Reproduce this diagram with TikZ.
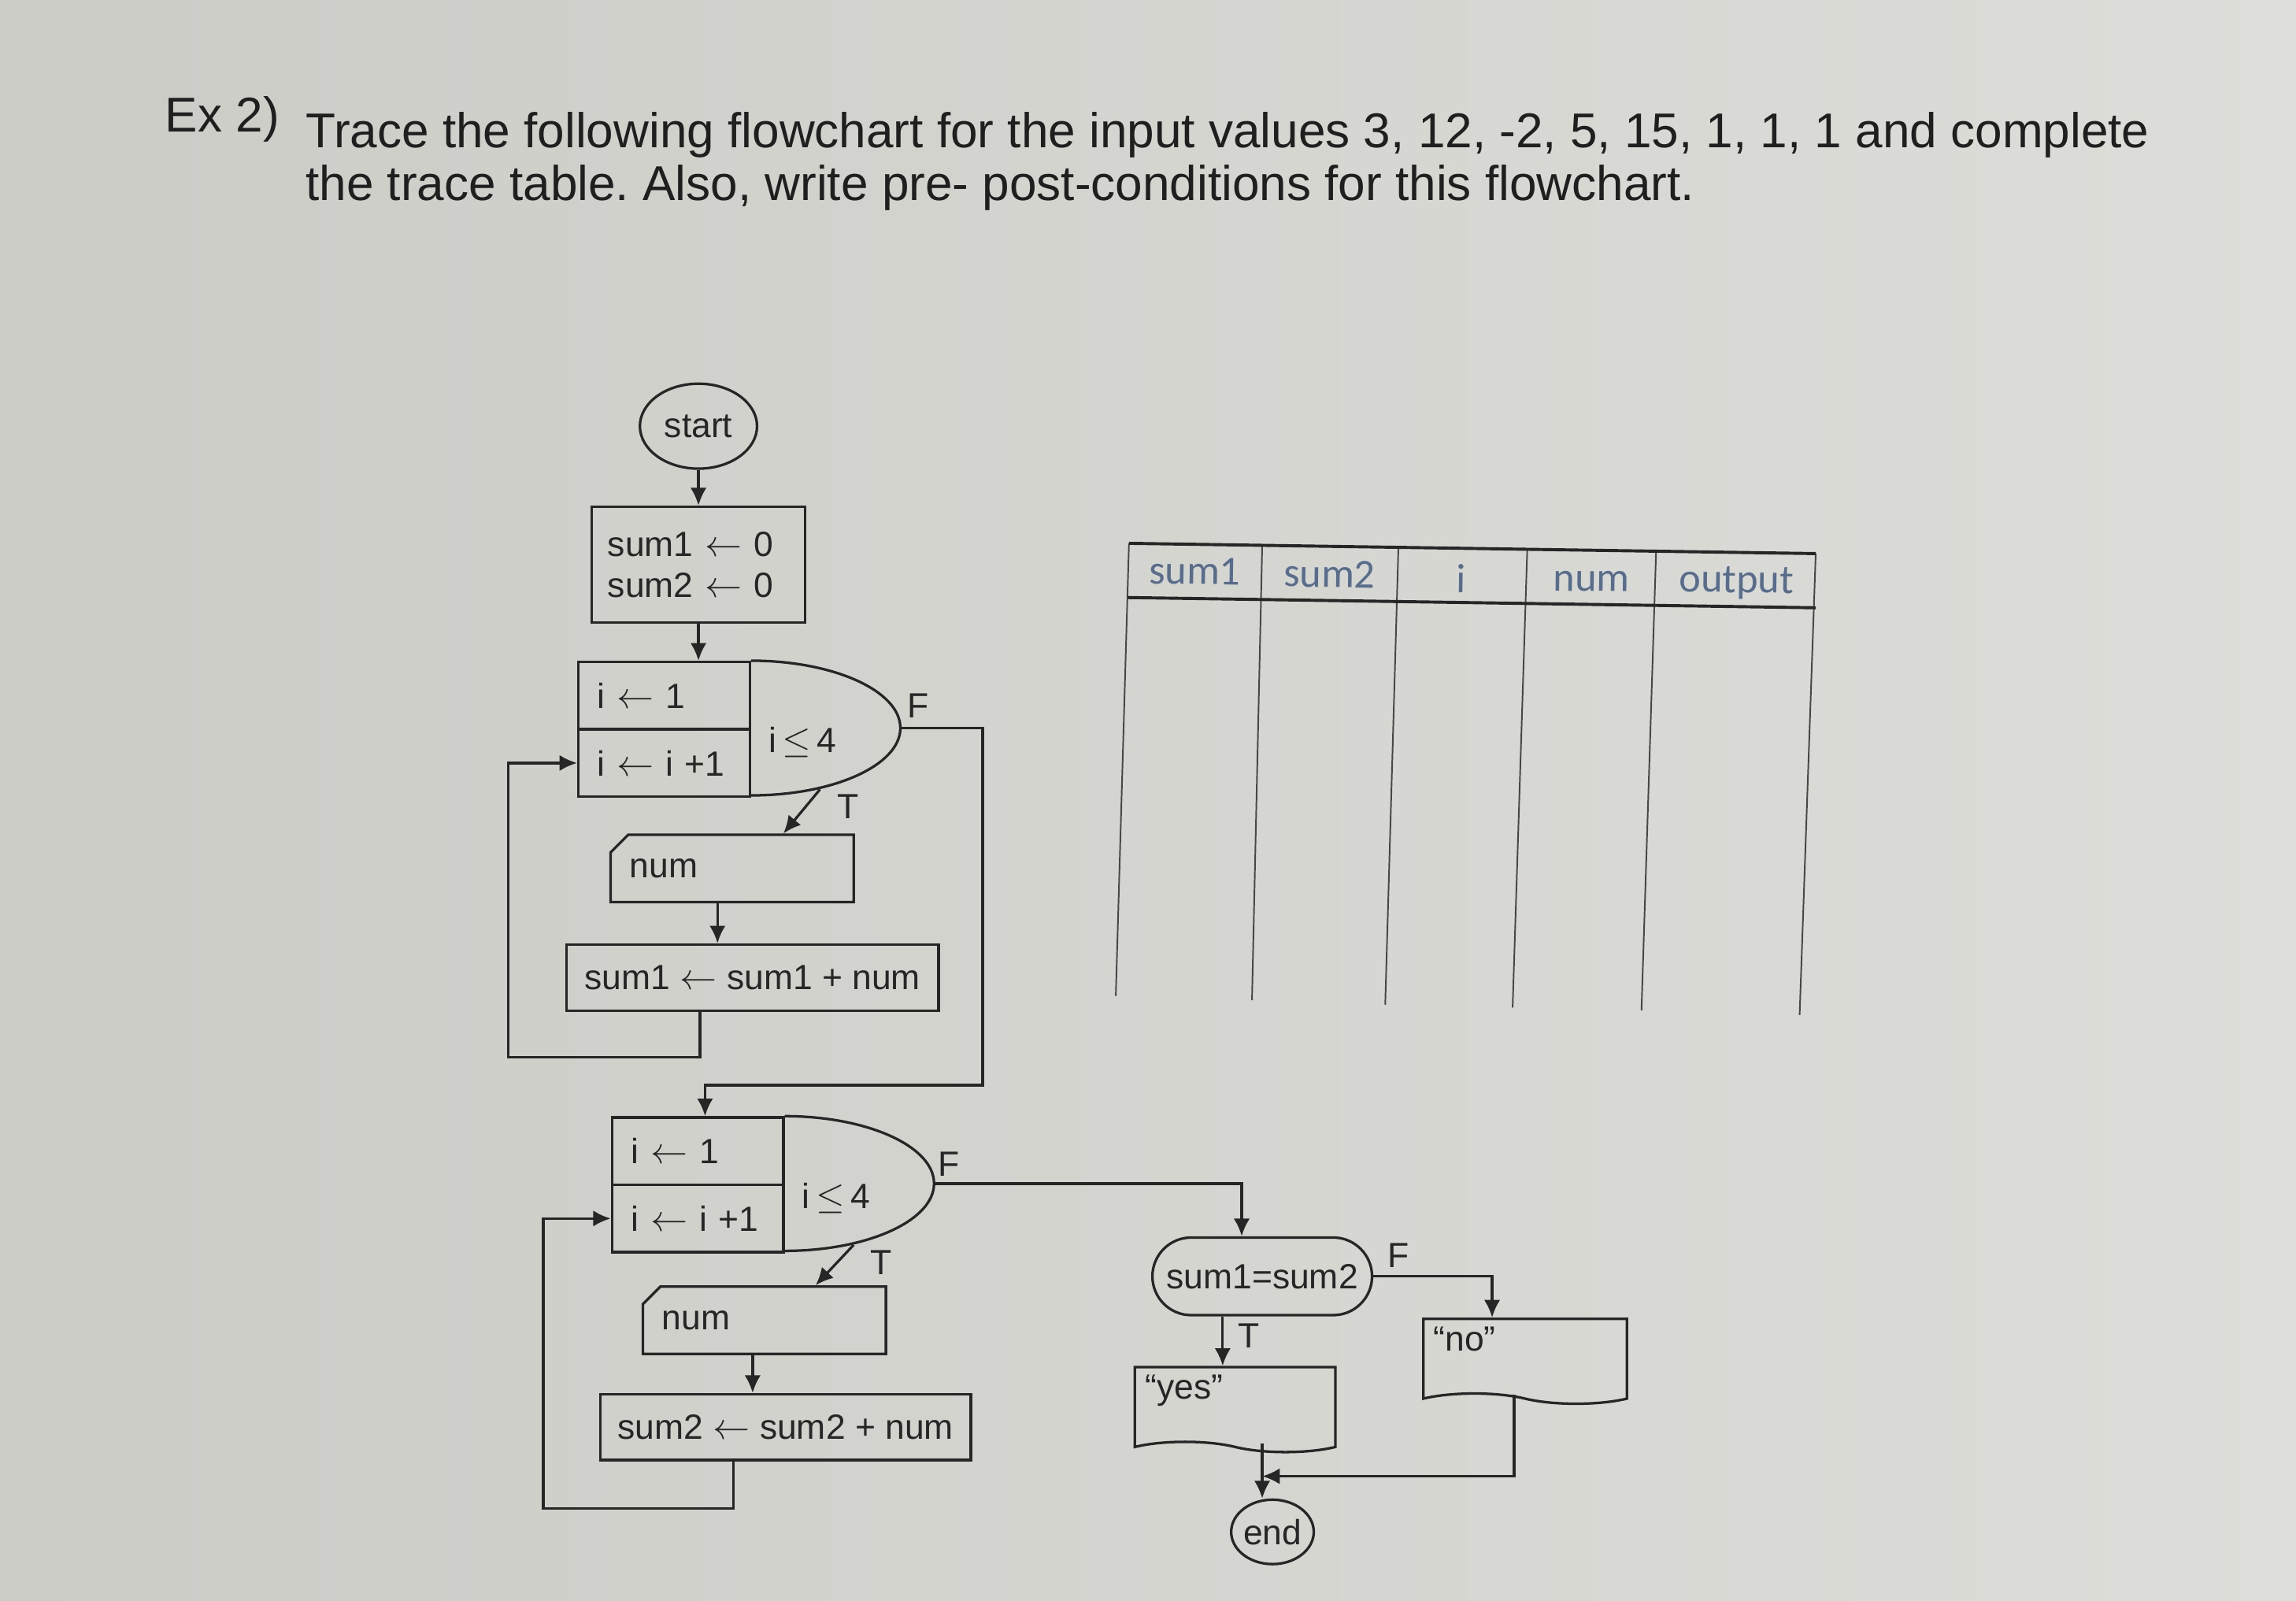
\documentclass[tikz,border=0pt]{standalone}
\usepackage{fontspec}
\setmainfont{Liberation Sans}
\newfontfamily\tabfont{Carlito}
\usetikzlibrary{arrows.meta,shapes.geometric,shapes.misc,shapes.symbols}
\frenchspacing

\definecolor{paperdark}{RGB}{204,204,199}
\definecolor{paperlight}{RGB}{221,221,217}
\definecolor{ink}{RGB}{38,38,38}
\definecolor{headblue}{RGB}{88,108,140}

\begin{document}
\begin{tikzpicture}[x=0.2mm, y=-0.2mm, color=ink, line width=1pt,
    >={Latex[length=2.4mm,width=2.2mm]},
    every node/.style={font=\fontsize{13.6}{16}\selectfont},
    startstop/.style={draw, ellipse, inner sep=0pt},
    procbox/.style={draw, rectangle, inner sep=0pt},
    loopbox/.style={draw, rectangle, minimum width=23.4mm, minimum height=9.2mm,
        text width=18.2mm, align=left, inner xsep=2.6mm, inner ysep=0pt},
    inputbox/.style={draw, chamfered rectangle, chamfered rectangle corners=north west,
        chamfered rectangle xsep=1mm, chamfered rectangle ysep=1.4mm,
        minimum width=31.2mm, minimum height=9.2mm, text width=28mm, align=left,
        inner xsep=1.6mm, inner ysep=0pt},
    testbox/.style={draw, rounded rectangle, minimum width=30mm, minimum height=10.6mm, inner sep=0pt},
    docbox/.style={draw, tape, tape bend top=none, tape bend bottom=out and in,
        tape bend height=1.4mm, minimum height=10.6mm, align=left,
        text height=3.4mm, text depth=4.8mm, inner xsep=1.4mm, inner ysep=1mm},
    lbl/.style={inner sep=0pt},
    titletext/.style={anchor=base west, inner sep=0pt,
        font=\fontsize{19}{22}\selectfont, text=black!88},
    headtext/.style={inner sep=0pt, rotate=-0.8, text=headblue,
        font=\tabfont\fontsize{16}{19}\selectfont}]

    % Paper
    \shade[left color=paperdark, right color=paperlight] (0,0) rectangle (1568,1093);
    \useasboundingbox (0,0) rectangle (1568,1093);

    % Task
    \node[titletext] (exno) at (112,90) {Ex 2)};
    \node[titletext] (task1) at (208,101) {Trace the following flowchart for the input values 3, 12, -2, 5, 15, 1, 1, 1 and complete};
    \node[titletext] (task2) at (208,137) {the trace table. Also, write pre- post-conditions for this flowchart.};

    % First loop
    \node[startstop, minimum width=16mm, minimum height=11.6mm] (start) at (477,291) {start};
    \node[procbox, minimum width=29.2mm, minimum height=15.8mm, text width=24.8mm,
        align=left, inner xsep=2.2mm] (init) at (477,385.5) {sum1 $\leftarrow$ 0\\sum2 $\leftarrow$ 0};
    \node[loopbox] (l1init) at (453.5,475) {i $\leftarrow$ 1};
    \node[loopbox] (l1step) at (453.5,521) {i $\leftarrow$ i +1};
    \draw (l1init.north east) arc[start angle=90, end angle=-90, x radius=20.4mm, y radius=9.2mm];
    \coordinate (l1tip) at ([xshift=20.4mm,yshift=-9.2mm]l1init.north east);
    \coordinate (l1t) at (560,539);
    \node[lbl, anchor=west] (l1cond) at (524,507) {i\,$\le$\,4};
    \node[lbl] (l1f) at (627,482) {F};
    \node[lbl] (l1tl) at (579,551) {T};
    \node[inputbox] (numa) at (500,593) {num};
    \node[procbox, minimum width=50.8mm, minimum height=9mm] (suma) at (514,667.5) {sum1 $\leftarrow$ sum1 + num};

    \draw[->] (start) -- (init);
    \draw[->] (init.south) -- (init.south |- l1init.north);
    \draw[->] (l1t) -- ([xshift=7mm]numa.north);
    \draw[->] ([xshift=-2mm]numa.south) -- ([xshift=-2mm]numa.south |- suma.north);
    \draw[->] ([xshift=-7.2mm]suma.south) |- (347,722) |- (l1step.west);

    % Second loop
    \node[loopbox] (l2init) at (476.5,786) {i $\leftarrow$ 1};
    \node[loopbox] (l2step) at (476.5,832) {i $\leftarrow$ i +1};
    \draw (l2init.north east) arc[start angle=90, end angle=-90, x radius=20.4mm, y radius=9.2mm];
    \coordinate (l2tip) at ([xshift=20.4mm,yshift=-9.2mm]l2init.north east);
    \coordinate (l2t) at (583,850);
    \node[lbl, anchor=west] (l2cond) at (547,818) {i\,$\le$\,4};
    \node[lbl] (l2f) at (648,795) {F};
    \node[lbl] (l2tl) at (602,862) {T};
    \node[inputbox] (numb) at (522,901.5) {num};
    \node[procbox, minimum width=50.6mm, minimum height=9mm] (sumb) at (536.5,974.5) {sum2 $\leftarrow$ sum2 + num};

    \draw[->] (l1tip) -| (671,741) -| ([xshift=1mm]l2init.north);
    \draw[->] (l2t) -- ([xshift=7mm]numb.north);
    \draw[->] ([xshift=-1.6mm]numb.south) -- ([xshift=-1.6mm]numb.south |- sumb.north);
    \draw[->] ([xshift=-7.1mm]sumb.south) |- (371,1030) |- (l2step.west);

    % Comparison and output
    \node[testbox] (dec) at (862,871.5) {sum1=sum2};
    \node[lbl] (decf) at (955,857) {F};
    \node[lbl] (dect) at (853,912) {T};
    \node[docbox, minimum width=27.4mm, text width=24.6mm] (yes) at (843.5,959) {``yes''};
    \node[docbox, minimum width=27.8mm, text width=25mm] (no) at (1041.5,926) {``no''};
    \node[startstop, minimum width=11.2mm, minimum height=8.8mm] (endn) at (869,1046) {end};
    \coordinate (join) at (862,1008);

    \draw[->] (l2tip) -| ([xshift=-2.8mm]dec.north);
    \draw[->] ([xshift=-5.4mm]dec.south) -- ([xshift=-5.4mm]dec.south |- yes.north);
    \draw[->] (dec.east) -| ([xshift=-4.5mm]no.north);
    \draw[->] ([xshift=3.7mm]yes.south) -- ([xshift=3.7mm]yes.south |- endn.north);
    \draw[->] ([xshift=-1.5mm]no.south) |- (join);

    % Trace table
    \foreach \xa/\ya/\xb/\yb in {771/371/762/680, 862/372/855/683, 955/374/946/686,
        1043/375/1033/688, 1131/376/1121/690, 1240/378/1229/693}
        \draw[line width=0.6pt, ink!85] (\xa,\ya) -- (\xb,\yb);
    \draw[line width=1.2pt] (771,371) -- (1240,378);
    \draw[line width=1.2pt] (770,408) -- (1240,415);
    \node[headtext] (hsum1) at (816,390) {sum1};
    \node[headtext] (hsum2) at (908,392) {sum2};
    \node[headtext] (hi) at (998,395) {i};
    \node[headtext] (hnum) at (1087,397) {num};
    \node[headtext] (hout) at (1186,398) {output};
\end{tikzpicture}
\end{document}
